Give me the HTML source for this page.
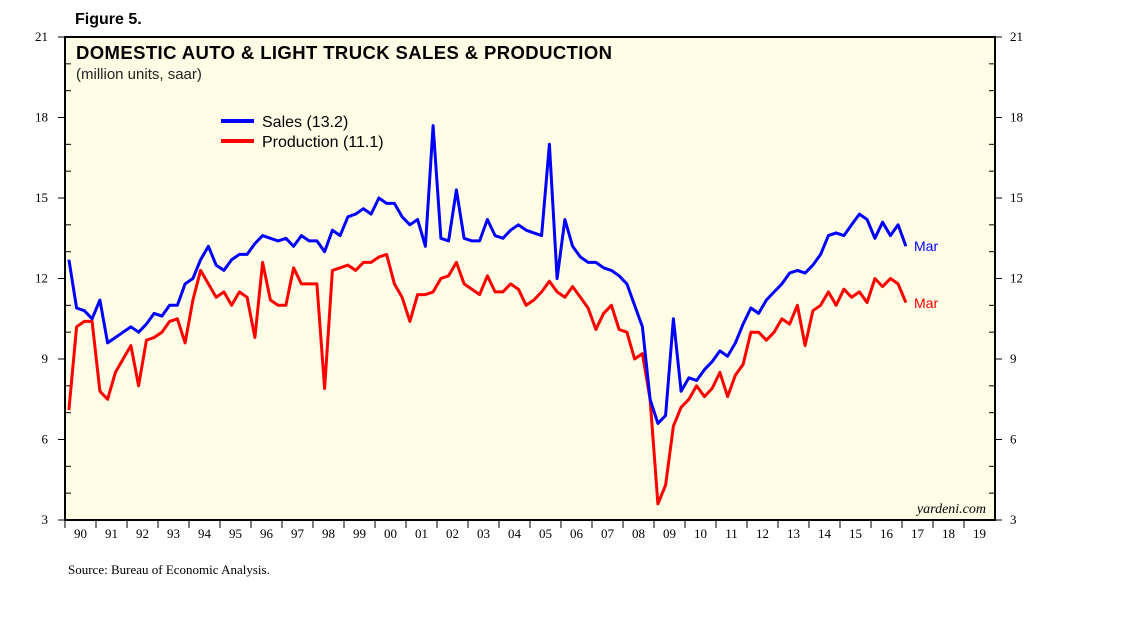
<!DOCTYPE html>
<html><head><meta charset="utf-8"><style>
body{margin:0;background:#fff;width:1138px;height:621px;overflow:hidden;font-family:"Liberation Sans",sans-serif}
</style></head><body>
<svg width="1138" height="621">
<text x="75" y="24" font-size="16" font-weight="bold">Figure 5.</text>
<rect x="65" y="37" width="930" height="483" fill="#FFFDE6" stroke="#000" stroke-width="2"/>
<text x="76" y="59" font-size="18.5" font-weight="bold" textLength="536">DOMESTIC AUTO &amp; LIGHT TRUCK SALES &amp; PRODUCTION</text>
<text x="76" y="79" font-size="15" fill="#222">(million units, saar)</text>
<g>
<line x1="221" y1="121" x2="254" y2="121" stroke="#0000ff" stroke-width="4"/>
<text x="262" y="127" font-size="16">Sales (13.2)</text>
<line x1="221" y1="141" x2="254" y2="141" stroke="#ff0000" stroke-width="4"/>
<text x="262" y="147" font-size="16">Production (11.1)</text>
</g>
<g id="axes"></g>
<g id="series"></g>
<text x="914" y="251" font-size="14" fill="#0000ff">Mar</text>
<text x="914" y="308" font-size="14" fill="#ff0000">Mar</text>
<text x="986" y="513" font-size="14" font-style="italic" font-family="Liberation Serif,serif" text-anchor="end">yardeni.com</text>
<text x="68" y="574" font-size="13" font-family="Liberation Serif,serif">Source: Bureau of Economic Analysis.</text>
</svg>
<script>
const yTicks=[3,6,9,12,15,18,21];
const years=["90","91","92","93","94","95","96","97","98","99","00","01","02","03","04","05","06","07","08","09","10","11","12","13","14","15","16","17","18","19"];
const sales=[12.7,10.9,10.8,10.5, 11.2,9.6,9.8,10.0, 10.2,10.0,10.3,10.7, 10.6,11.0,11.0,11.8, 12.0,12.7,13.2,12.5, 12.3,12.7,12.9,12.9, 13.3,13.6,13.5,13.4, 13.5,13.2,13.6,13.4, 13.4,13.0,13.8,13.6, 14.3,14.4,14.6,14.4, 15.0,14.8,14.8,14.3, 14.0,14.2,13.2,17.7, 13.5,13.4,15.3,13.5, 13.4,13.4,14.2,13.6, 13.5,13.8,14.0,13.8, 13.7,13.6,17.0,12.0, 14.2,13.2,12.8,12.6, 12.6,12.4,12.3,12.1, 11.8,11.0,10.2,7.5, 6.6,6.9,10.5,7.8, 8.3,8.2,8.6,8.9, 9.3,9.1,9.6,10.3, 10.9,10.7,11.2,11.5, 11.8,12.2,12.3,12.2, 12.5,12.9,13.6,13.7, 13.6,14.0,14.4,14.2, 13.5,14.1,13.6,14.0, 13.2];
const production=[7.1,10.2,10.4,10.4, 7.8,7.5,8.5,9.0, 9.5,8.0,9.7,9.8, 10.0,10.4,10.5,9.6, 11.2,12.3,11.8,11.3, 11.5,11.0,11.5,11.3, 9.8,12.6,11.2,11.0, 11.0,12.4,11.8,11.8, 11.8,7.9,12.3,12.4, 12.5,12.3,12.6,12.6, 12.8,12.9,11.8,11.3, 10.4,11.4,11.4,11.5, 12.0,12.1,12.6,11.8, 11.6,11.4,12.1,11.5, 11.5,11.8,11.6,11.0, 11.2,11.5,11.9,11.5, 11.3,11.7,11.3,10.9, 10.1,10.7,11.0,10.1, 10.0,9.0,9.2,7.5, 3.6,4.3,6.5,7.2, 7.5,8.0,7.6,7.9, 8.5,7.6,8.4,8.8, 10.0,10.0,9.7,10.0, 10.5,10.3,11.0,9.5, 10.8,11.0,11.5,11.0, 11.6,11.3,11.5,11.1, 12.0,11.7,12.0,11.8, 11.1];
const NS="http://www.w3.org/2000/svg";
const X0=65,YW=31,Y0=520,PPU=483/18;
const xq=i=>X0+(i+0.5)/4*YW;
const yv=v=>Y0-(v-3)*PPU;
const axes=document.getElementById('axes'),series=document.getElementById('series');
function mk(t,a,p){const e=document.createElementNS(NS,t);for(const k in a)e.setAttribute(k,a[k]);p.appendChild(e);return e;}
yTicks.forEach(v=>{
 const y=yv(v);
 const l=mk('text',{x:48,y:y+4,'font-size':13,'font-family':'Liberation Serif,serif','text-anchor':'end'},axes);l.textContent=v;
 
 
 const r=mk('text',{x:1010,y:y+4,'font-size':13,'font-family':'Liberation Serif,serif'},axes);r.textContent=v;
 
 
 mk('line',{x1:58,x2:65,y1:y,y2:y,stroke:'#000'},axes);
 mk('line',{x1:995,x2:1002,y1:y,y2:y,stroke:'#000'},axes);
});
for(let v=4;v<21;v++){if(v%3){const y=yv(v);mk('line',{x1:65,x2:71,y1:y,y2:y,stroke:'#000'},axes);mk('line',{x1:989,x2:995,y1:y,y2:y,stroke:'#000'},axes);}}
years.forEach((s,i)=>{
 const x=X0+i*YW;
 mk('line',{x1:x,x2:x,y1:520,y2:528,stroke:'#000'},axes);
 const t=mk('text',{x:x+YW/2,y:538,'font-size':13,'font-family':'Liberation Serif,serif','text-anchor':'middle'},axes);t.textContent=s;
 
 
});
function line(arr,col,name){
 const d=arr.map((v,i)=>(i?'L':'M')+xq(i).toFixed(1)+','+yv(v).toFixed(1)).join('');
 const p=mk('path',{d:d,fill:'none',stroke:col,'stroke-width':3,'stroke-linejoin':'round'},series);
 
 
}
line(production,'#ff0000','production-line');
line(sales,'#0000ff','sales-line');
</script>
</body></html>
